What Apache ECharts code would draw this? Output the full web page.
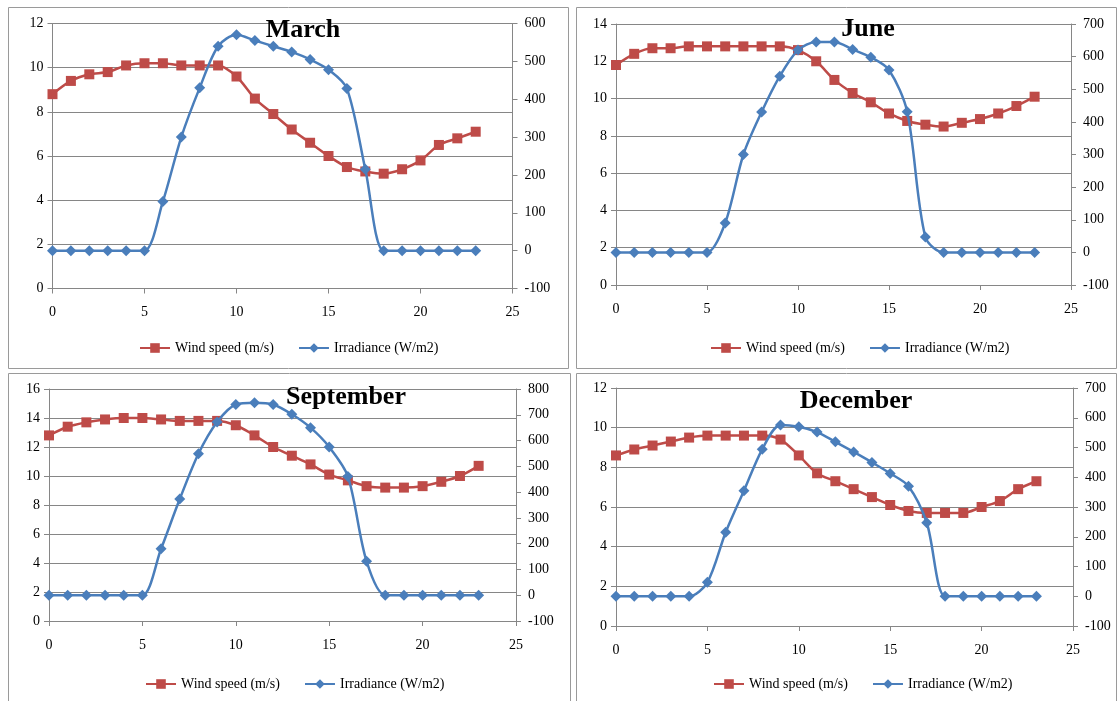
<!DOCTYPE html>
<html>
<head>
<meta charset="utf-8">
<script src="https://cdn.jsdelivr.net/npm/echarts@6/dist/echarts.min.js"></script>
<style>
html,body{margin:0;padding:0;background:#fff;}
#c{width:1117px;height:701px;}
</style>
</head>
<body>
<div id="c"></div>
<script>
// ---- data ----
const hours = [0,1,2,3,4,5,6,7,8,9,10,11,12,13,14,15,16,17,18,19,20,21,22,23];
const panelTitles = ['March','June','September','December'];
const seriesNames = ['Wind speed (m/s)','Irradiance (W/m2)'];

const windMarch = [8.8,9.4,9.7,9.8,10.1,10.2,10.2,10.1,10.1,10.1,9.6,8.6,7.9,7.2,6.6,6.0,5.5,5.3,5.2,5.4,5.8,6.5,6.8,7.1];
const irrMarch  = [0,0,0,0,0,0,130,300,430,540,570,555,540,525,505,478,428,215,0,0,0,0,0,0];

const windJune = [11.8,12.4,12.7,12.7,12.8,12.8,12.8,12.8,12.8,12.8,12.6,12.0,11.0,10.3,9.8,9.2,8.8,8.6,8.5,8.7,8.9,9.2,9.6,10.1];
const irrJune  = [0,0,0,0,0,0,90,300,430,540,620,645,645,622,598,559,431,47,0,0,0,0,0,0];

const windSep = [12.8,13.4,13.7,13.9,14.0,14.0,13.9,13.8,13.8,13.8,13.5,12.8,12.0,11.4,10.8,10.1,9.7,9.3,9.2,9.2,9.3,9.6,10.0,10.7];
const irrSep  = [0,0,0,0,0,0,180,373,549,672,740,747,740,702,650,575,461,132,0,0,0,0,0,0];

const windDec = [8.6,8.9,9.1,9.3,9.5,9.6,9.6,9.6,9.6,9.4,8.6,7.7,7.3,6.9,6.5,6.1,5.8,5.7,5.7,5.7,6.0,6.3,6.9,7.3];
const irrDec  = [0,0,0,0,0,47,215,355,494,576,570,552,519,485,450,413,370,247,0,0,0,0,0,0];

const windSets = [windMarch, windJune, windSep, windDec];
const irrSets  = [irrMarch, irrJune, irrSep, irrDec];

// axis ranges (tick labels)
const leftMax  = [12, 14, 16, 12];
const rightMax = [600, 700, 800, 700];
const rightMin = -100;
const xMax = 25;

// ---- layout ----
const grids = [
  {left:52.5, top:23.5, width:460, height:265},
  {left:616, top:24, width:455, height:261},
  {left:49, top:389, width:467, height:232},
  {left:616, top:388, width:457, height:238}
];
const titlePos = [[298,25],[863,24],[341,392],[851,396]];
const legendPos = [[139,341],[710,341],[145,677],[713,677]];
const boxes = [
  [8,7,560,361],
  [576,7,540,361],
  [8,373,562,340],
  [576,373,540,340]
];

const RED = '#BE4B48', BLUE = '#4A7EBB', AX = '#868686';
const FONT = '"Liberation Serif","Times New Roman",serif';

const option = {
  animation:false,
  textStyle:{fontFamily:FONT},
  title:[], grid:[], xAxis:[], yAxis:[], series:[], legend:[],
  graphic:[]
};

boxes.forEach(b=>{
  option.graphic.push({type:'rect', shape:{x:b[0]+0.5,y:b[1]+0.5,width:b[2],height:b[3]},
    style:{fill:'none', stroke:'#9a9a9a', lineWidth:1}, z:-1});
});

for(let i=0;i<4;i++){
  option.grid.push(Object.assign({containLabel:false}, grids[i]));
  option.title.push({text:panelTitles[i], left:titlePos[i][0], top:titlePos[i][1], textAlign:'center', textVerticalAlign:'middle',
    textStyle:{fontFamily:FONT, fontWeight:'bold', fontSize:26, color:'#000'}});
  option.legend.push({data:seriesNames, left:legendPos[i][0], top:legendPos[i][1], width:420,
    orient:'horizontal', itemWidth:30, itemHeight:12, itemGap:24, padding:0,
    textStyle:{fontFamily:FONT, fontSize:14, color:'#000'}});
  option.xAxis.push({type:'value', gridIndex:i, min:0, max:xMax, interval:5,
    axisLine:{show:true, onZero:false, lineStyle:{color:AX, width:1}},
    axisTick:{show:true, inside:false, length:5, lineStyle:{color:AX}},
    axisLabel:{color:'#000', fontSize:14, fontFamily:FONT, margin:17},
    splitLine:{show:false}});
  option.yAxis.push({type:'value', gridIndex:i, position:'left', min:0, max:leftMax[i], interval:2,
    axisLine:{show:true, lineStyle:{color:AX, width:1}},
    axisTick:{show:true, inside:false, length:5, lineStyle:{color:AX}},
    axisLabel:{color:'#000', fontSize:14, fontFamily:FONT, margin:9},
    splitLine:{show:true, lineStyle:{color:AX, width:1}}});
  option.yAxis.push({type:'value', gridIndex:i, position:'right', min:rightMin, max:rightMax[i], interval:100,
    axisLine:{show:true, lineStyle:{color:AX, width:1}},
    axisTick:{show:true, inside:false, length:5, lineStyle:{color:AX}},
    axisLabel:{color:'#000', fontSize:14, fontFamily:FONT, margin:12},
    splitLine:{show:false}});
  option.series.push({name:seriesNames[0], type:'line', xAxisIndex:i, yAxisIndex:2*i,
    data:hours.map((h,k)=>[h, windSets[i][k]]), smooth:0.3,
    symbol:'rect', symbolSize:10, itemStyle:{color:RED}, lineStyle:{color:RED, width:2.5}, z:2});
  option.series.push({name:seriesNames[1], type:'line', xAxisIndex:i, yAxisIndex:2*i+1,
    data:hours.map((h,k)=>[h, irrSets[i][k]]), smooth:0.3,
    symbol:'diamond', symbolSize:11, itemStyle:{color:BLUE}, lineStyle:{color:BLUE, width:2.5}, z:3});
}

const chart = echarts.init(document.getElementById('c'), null, {renderer:'canvas'});
chart.setOption(option);
</script>
</body>
</html>
